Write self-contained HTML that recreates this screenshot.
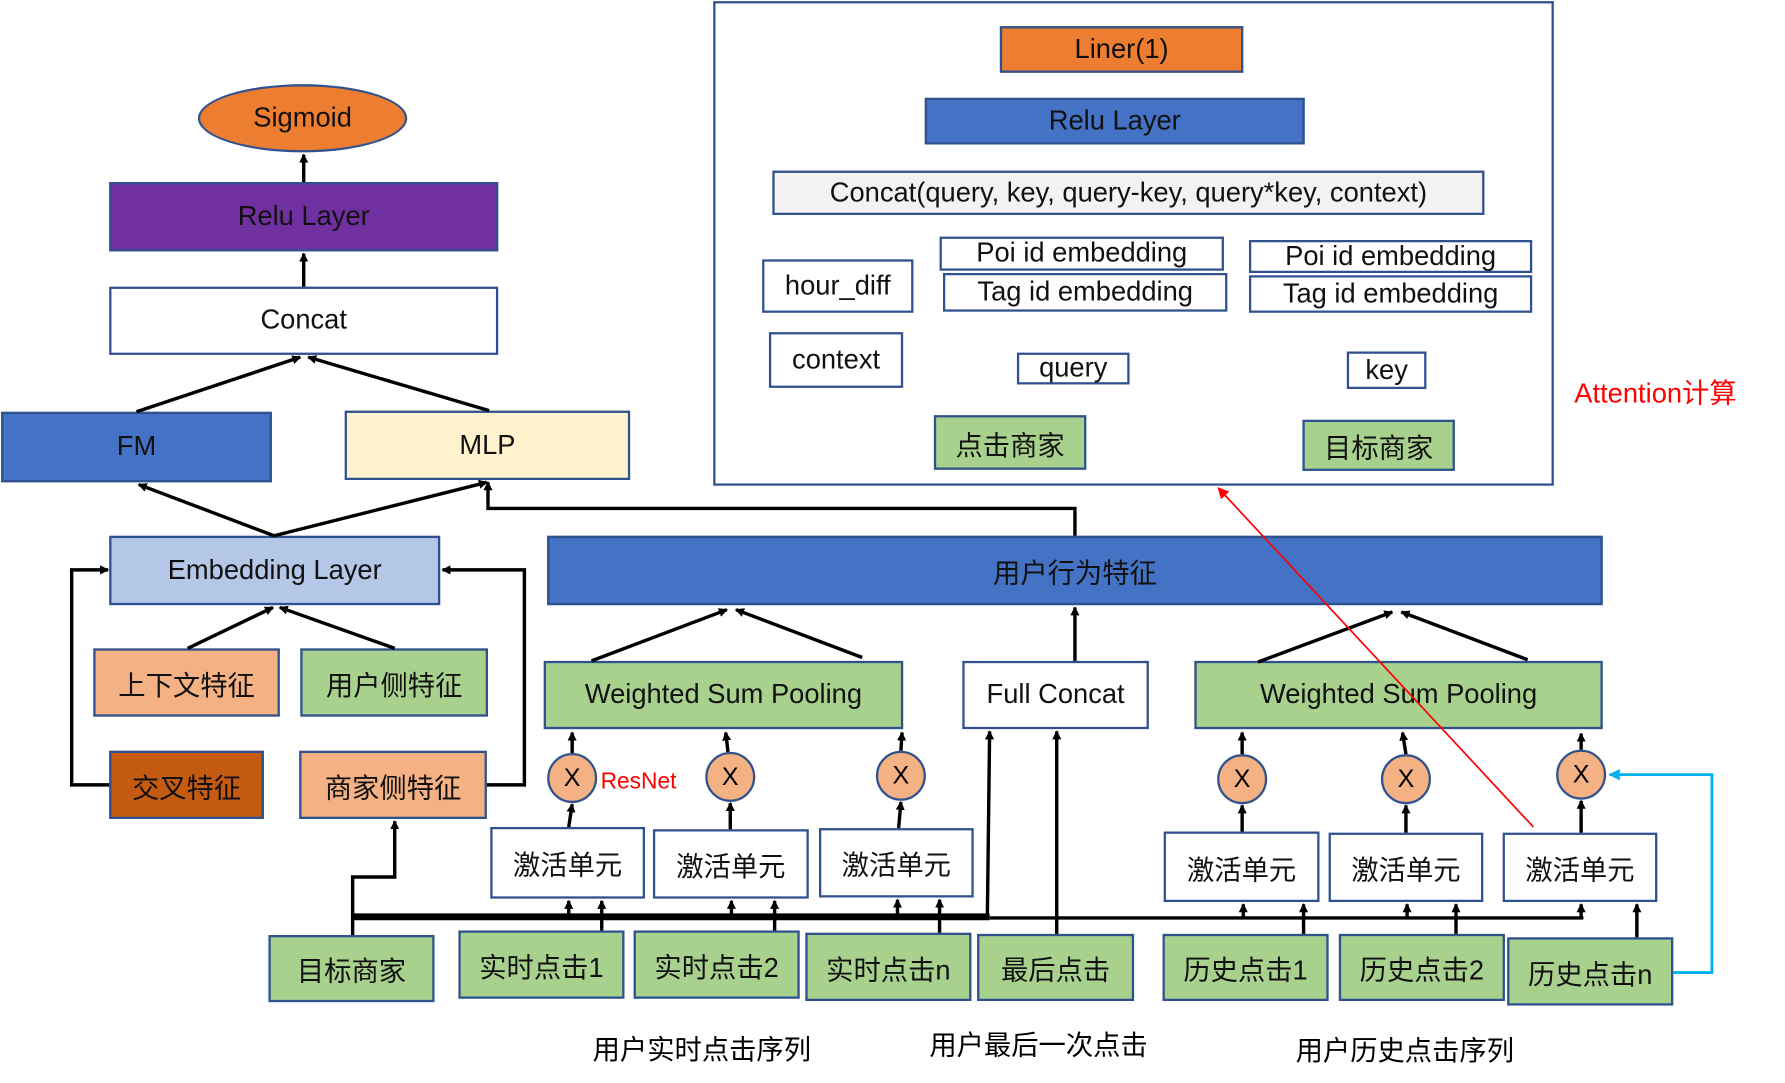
<!DOCTYPE html>
<html><head><meta charset="utf-8"><style>
html,body{margin:0;padding:0;background:#fff;}
body{width:1785px;height:1083px;overflow:hidden;position:relative;}
#w{position:absolute;left:0;top:0;width:1560px;height:946px;transform:scale(1.1375);transform-origin:0 0;}
.b{position:absolute;box-sizing:border-box;border:2px solid #2F528F;display:flex;align-items:center;justify-content:center;font-family:"Liberation Sans","Noto Sans CJK SC",sans-serif;font-size:24px;color:#111;white-space:nowrap;}
.g{background:#A9D18E;}
.t{position:absolute;font-family:"Liberation Sans","Noto Sans CJK SC",sans-serif;white-space:nowrap;}
.c{position:absolute;width:44px;height:44px;border-radius:50%;background:#F4B183;border:2px solid #2F528F;box-sizing:border-box;display:flex;align-items:center;justify-content:center;font-family:"Liberation Sans",sans-serif;font-size:22px;}
svg{position:absolute;left:0;top:0;}
</style></head><body><div id="w">
<div class="b" style="left:627px;top:1px;width:739px;height:426px;"></div>
<div class="b" style="left:879px;top:23px;width:214px;height:41px;background:#ED7D31;">Liner(1)</div>
<div class="b" style="left:813px;top:86px;width:334px;height:41px;background:#4472C4;">Relu Layer</div>
<div class="b" style="left:679px;top:150px;width:626px;height:39px;background:#F2F2F2;">Concat(query, key, query-key, query*key, context)</div>
<div class="b" style="left:670px;top:228px;width:133px;height:47px;background:#fff;">hour_diff</div>
<div class="b" style="left:826px;top:208px;width:250px;height:30px;background:#fff;">Poi id embedding</div>
<div class="b" style="left:829px;top:240px;width:250px;height:34px;background:#fff;">Tag id embedding</div>
<div class="b" style="left:1098px;top:211px;width:249px;height:29px;background:#fff;">Poi id embedding</div>
<div class="b" style="left:1098px;top:242px;width:249px;height:33px;background:#fff;">Tag id embedding</div>
<div class="b" style="left:676px;top:292px;width:118px;height:49px;background:#fff;">context</div>
<div class="b" style="left:894px;top:310px;width:99px;height:28px;background:#fff;">query</div>
<div class="b" style="left:1184px;top:309px;width:70px;height:33px;background:#fff;">key</div>
<div class="b g" style="left:821px;top:365px;width:134px;height:48px;">点击商家</div>
<div class="b g" style="left:1145px;top:369px;width:134px;height:45px;">目标商家</div>
<div class="t" style="left:1384px;top:326px;font-size:24px;color:#FF0000;">Attention计算</div>

<div class="b" style="left:174px;top:74px;width:184px;height:60px;border-radius:50%;background:#ED7D31;">Sigmoid</div>
<div class="b" style="left:96px;top:160px;width:342px;height:61px;background:#7030A0;">Relu Layer</div>
<div class="b" style="left:96px;top:252px;width:342px;height:60px;background:#fff;">Concat</div>
<div class="b" style="left:1px;top:362px;width:238px;height:62px;background:#4472C4;">FM</div>
<div class="b" style="left:303px;top:361px;width:251px;height:61px;background:#FFF2CC;">MLP</div>
<div class="b" style="left:96px;top:471px;width:291px;height:61px;background:#B4C7E7;">Embedding Layer</div>
<div class="b" style="left:82px;top:570px;width:164px;height:60px;background:#F4B183;">上下文特征</div>
<div class="b g" style="left:264px;top:570px;width:165px;height:60px;">用户侧特征</div>
<div class="b" style="left:96px;top:660px;width:136px;height:60px;background:#C55A11;">交叉特征</div>
<div class="b" style="left:263px;top:660px;width:165px;height:60px;background:#F4B183;">商家侧特征</div>

<div class="b" style="left:481px;top:471px;width:928px;height:61px;background:#4472C4;">用户行为特征</div>
<div class="b g" style="left:478px;top:581px;width:316px;height:60px;">Weighted Sum Pooling</div>
<div class="b" style="left:846px;top:581px;width:164px;height:60px;background:#fff;">Full Concat</div>
<div class="b g" style="left:1050px;top:581px;width:359px;height:60px;">Weighted Sum Pooling</div>

<div class="c" style="left:481px;top:662px;">X</div>
<div class="c" style="left:620px;top:661px;">X</div>
<div class="c" style="left:770px;top:660px;">X</div>
<div class="c" style="left:1070px;top:663px;">X</div>
<div class="c" style="left:1214px;top:663px;">X</div>
<div class="c" style="left:1368px;top:659px;">X</div>
<div class="t" style="left:528px;top:676px;font-size:20px;color:#FF0000;">ResNet</div>

<div class="b" style="left:431px;top:727px;width:136px;height:63px;background:#fff;">激活单元</div>
<div class="b" style="left:574px;top:729px;width:137px;height:61px;background:#fff;">激活单元</div>
<div class="b" style="left:720px;top:728px;width:136px;height:61px;background:#fff;">激活单元</div>
<div class="b" style="left:1023px;top:731px;width:137px;height:62px;background:#fff;">激活单元</div>
<div class="b" style="left:1168px;top:732px;width:136px;height:61px;background:#fff;">激活单元</div>
<div class="b" style="left:1321px;top:732px;width:136px;height:61px;background:#fff;">激活单元</div>

<div class="b g" style="left:236px;top:822px;width:146px;height:59px;">目标商家</div>
<div class="b g" style="left:403px;top:818px;width:146px;height:60px;">实时点击1</div>
<div class="b g" style="left:557px;top:818px;width:146px;height:60px;">实时点击2</div>
<div class="b g" style="left:708px;top:820px;width:146px;height:60px;">实时点击n</div>
<div class="b g" style="left:859px;top:821px;width:138px;height:59px;">最后点击</div>
<div class="b g" style="left:1022px;top:821px;width:146px;height:59px;">历史点击1</div>
<div class="b g" style="left:1177px;top:821px;width:146px;height:59px;">历史点击2</div>
<div class="b g" style="left:1325px;top:824px;width:146px;height:60px;">历史点击n</div>

<div class="t" style="left:521px;top:903px;font-size:24px;">用户实时点击序列</div>
<div class="t" style="left:817px;top:899px;font-size:24px;">用户最后一次点击</div>
<div class="t" style="left:1139px;top:904px;font-size:24px;">用户历史点击序列</div>

<svg width="1560" height="946" viewBox="0 0 1560 946">
<defs>
<marker id="a" markerWidth="8" markerHeight="8" refX="7" refY="4" orient="auto" markerUnits="userSpaceOnUse"><path d="M0,0 L8,4 L0,8 z" fill="#000"/></marker>
<marker id="r" markerWidth="10" markerHeight="10" refX="9" refY="5" orient="auto" markerUnits="userSpaceOnUse"><path d="M0,0 L10,5 L0,10 z" fill="#f00"/></marker>
<marker id="bl" markerWidth="10" markerHeight="10" refX="9" refY="5" orient="auto" markerUnits="userSpaceOnUse"><path d="M0,0 L10,5 L0,10 z" fill="#00B0F0"/></marker>
</defs>
<g stroke="#000" stroke-width="3" fill="none" marker-end="url(#a)">
<line x1="267" y1="160" x2="267" y2="136"/>
<line x1="267" y1="252" x2="267" y2="223"/>
<line x1="120" y1="362" x2="264" y2="314"/>
<line x1="430" y1="361" x2="271" y2="314"/>
<line x1="241" y1="471" x2="122" y2="426"/>
<line x1="241" y1="471" x2="428" y2="424"/>
<line x1="165" y1="570" x2="240" y2="534"/>
<line x1="347" y1="570" x2="246" y2="534"/>
<polyline points="96,690 63,690 63,501 95,501"/>
<polyline points="428,690 461,690 461,501 389,501"/>
<polyline points="310,822 310,771 347,771 347,722"/>
<polyline points="945,471 945,447 429,447 429,424"/>
<line x1="520" y1="581" x2="639" y2="536"/>
<line x1="758" y1="578" x2="647" y2="536"/>
<line x1="945" y1="581" x2="945" y2="534"/>
<line x1="1106" y1="582" x2="1224" y2="538"/>
<line x1="1343" y1="580" x2="1232" y2="538"/>
<line x1="503" y1="662" x2="503" y2="644"/>
<line x1="640" y1="661" x2="638" y2="644"/>
<line x1="792" y1="660" x2="793" y2="644"/>
<line x1="1092" y1="663" x2="1092" y2="644"/>
<line x1="1236" y1="663" x2="1233" y2="644"/>
<line x1="1390" y1="659" x2="1390" y2="645"/>
<line x1="500" y1="727" x2="503" y2="707"/>
<line x1="642" y1="729" x2="642" y2="706"/>
<line x1="790" y1="728" x2="792" y2="705"/>
<line x1="1092" y1="731" x2="1092" y2="708"/>
<line x1="1236" y1="732" x2="1236" y2="708"/>
<line x1="1390" y1="732" x2="1390" y2="704"/>
<line x1="500" y1="806" x2="500" y2="792"/>
<line x1="643" y1="806" x2="643" y2="792"/>
<line x1="789" y1="806" x2="789" y2="791"/>
<line x1="1093" y1="806" x2="1093" y2="795"/>
<line x1="1237" y1="806" x2="1237" y2="795"/>
<line x1="1390" y1="806" x2="1390" y2="795"/>
<line x1="529" y1="818" x2="529" y2="792"/>
<line x1="681" y1="818" x2="681" y2="792"/>
<line x1="826" y1="820" x2="826" y2="791"/>
<line x1="1146" y1="821" x2="1146" y2="795"/>
<line x1="1280" y1="821" x2="1280" y2="795"/>
<line x1="1439" y1="824" x2="1439" y2="795"/>
<line x1="868" y1="806" x2="870" y2="643"/>
<line x1="929" y1="821" x2="929" y2="643"/>
</g>
<line x1="310" y1="806" x2="870" y2="806" stroke="#000" stroke-width="6"/>
<line x1="870" y1="807" x2="1392" y2="807" stroke="#000" stroke-width="3"/>
<polyline points="1471,855 1505,855 1505,681 1415,681" stroke="#00B0F0" stroke-width="2.5" fill="none" marker-end="url(#bl)"/>
<line x1="1348" y1="727" x2="1071" y2="429" stroke="#f00" stroke-width="1.5" marker-end="url(#r)"/>
</svg>
</div></body></html>
